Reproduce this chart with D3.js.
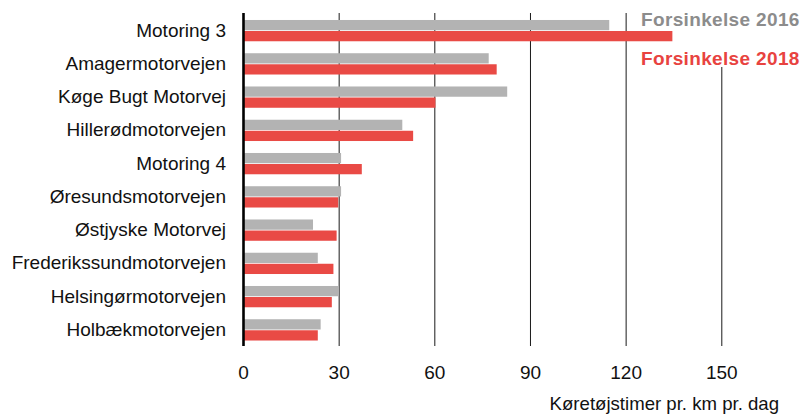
<!DOCTYPE html>
<html>
<head>
<meta charset="utf-8">
<script src="https://cdn.jsdelivr.net/npm/d3@7"></script>
<style>
  html, body { margin: 0; padding: 0; background: #fff; }
  svg { display: block; font-family: "Liberation Sans", Arial, Helvetica, sans-serif; }
</style>
</head>
<body>
<svg id="chart" width="811" height="414"></svg>
<script>
// Road names, top to bottom
const roads = [
  "Motoring 3", "Amagermotorvejen", "Køge Bugt Motorvej", "Hillerødmotorvejen",
  "Motoring 4", "Øresundsmotorvejen", "Østjyske Motorvej",
  "Frederikssundmotorvejen", "Helsingørmotorvejen", "Holbækmotorvejen"
];
// Vehicle hours of delay per km per day
const delay2016 = [114.7, 76.9, 82.7, 49.8, 30.6, 30.6, 21.8, 23.3, 29.7, 24.2];
const delay2018 = [134.5, 79.4, 60.2, 53.2, 37.1, 29.7, 29.2, 28.2, 27.7, 23.3];
const seriesKeys = ["2016", "2018"];
const seriesNames = ["Forsinkelse 2016", "Forsinkelse 2018"];
const xTicks = [0, 30, 60, 90, 120, 150];
const xTitle = "Køretøjstimer pr. km pr. dag";

const barColor = { "2016": "#b3b3b3", "2018": "#e94a45" };
const textColor = { "2016": "#8c8c8c", "2018": "#e8433f" };

const svg = d3.select("#chart");
const plotTop = 13, plotBottom = 346;

const x = d3.scaleLinear().domain([0, 150]).range([243.5, 721.8]);
const y = d3.scaleBand().domain(roads).range([12.5, 348]).paddingInner(0.36).paddingOuter(0.225);
const ySub = d3.scaleBand().domain(seriesKeys).range([0, y.bandwidth()]).paddingInner(0.07);

const rows = roads.map((r, i) => ({ road: r, "2016": delay2016[i], "2018": delay2018[i] }));

// Vertical gridlines (non-zero ticks)
svg.append("g").selectAll("line").data(xTicks.filter(d => d > 0)).join("line")
  .attr("x1", d => x(d)).attr("x2", d => x(d))
  .attr("y1", plotTop).attr("y2", plotBottom)
  .attr("stroke", "#1a1a1a").attr("stroke-width", 1);

// White panel behind the legend
svg.append("rect")
  .attr("x", 636).attr("y", 4).attr("width", 175).attr("height", 63)
  .attr("fill", "#fff");

// Bars
const groups = svg.append("g").selectAll("g").data(rows).join("g")
  .attr("transform", d => `translate(0,${y(d.road)})`);
groups.selectAll("rect").data(d => seriesKeys.map(k => ({ key: k, value: d[k] }))).join("rect")
  .attr("x", x(0))
  .attr("y", d => ySub(d.key))
  .attr("width", d => x(d.value) - x(0))
  .attr("height", ySub.bandwidth())
  .attr("fill", d => barColor[d.key]);

// Category labels
svg.append("g").selectAll("text").data(roads).join("text")
  .attr("x", 226)
  .attr("y", d => y(d) + y.bandwidth() / 2 + 6)
  .attr("text-anchor", "end")
  .attr("font-size", 19)
  .attr("fill", "#111")
  .text(d => d);

// Left axis line
svg.append("line")
  .attr("x1", x(0)).attr("x2", x(0))
  .attr("y1", plotTop).attr("y2", plotBottom)
  .attr("stroke", "#000").attr("stroke-width", 2.6);

// X tick labels
svg.append("g").selectAll("text").data(xTicks).join("text")
  .attr("x", d => x(d))
  .attr("y", 379)
  .attr("text-anchor", "middle")
  .attr("font-size", 19)
  .attr("fill", "#111")
  .text(d => d);

// X axis title
svg.append("text")
  .attr("x", 779).attr("y", 410)
  .attr("text-anchor", "end")
  .attr("font-size", 18.6)
  .attr("fill", "#111")
  .text(xTitle);

// Legend
svg.append("g").selectAll("text").data(seriesKeys).join("text")
  .attr("x", 641)
  .attr("y", (d, i) => 26 + i * 38.5)
  .attr("font-size", 19)
  .attr("font-weight", "bold")
  .attr("letter-spacing", 0.35)
  .attr("fill", d => textColor[d])
  .text((d, i) => seriesNames[i]);
</script>
</body>
</html>
